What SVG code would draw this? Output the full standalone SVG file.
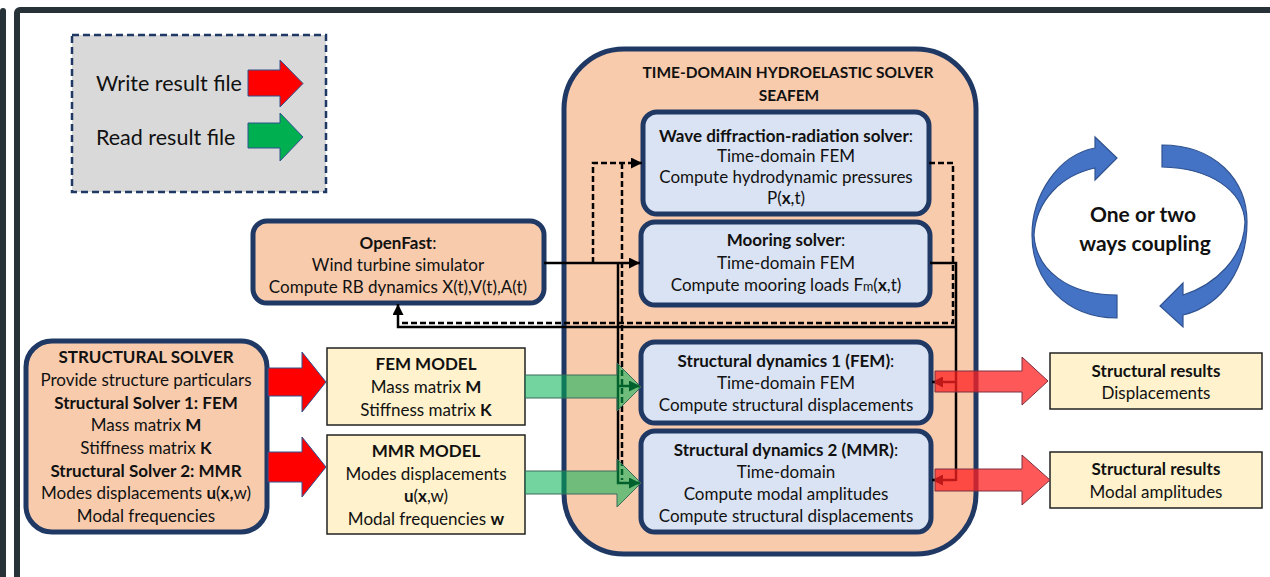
<svg xmlns="http://www.w3.org/2000/svg" width="1270" height="577" viewBox="0 0 1270 577">
<defs>
<style>
.t{font-family:Lato,"Open Sans","Liberation Sans",sans-serif;font-size:17px;fill:#111;text-anchor:middle}
.b{font-weight:bold}
.rb{fill:#f8cbad;stroke:#1f3864;stroke-width:5}
.bb{fill:#dae3f3;stroke:#1f3864;stroke-width:5}
.yb{fill:#fff2cc;stroke:#222;stroke-width:1.5}
.ln{fill:none;stroke:#000;stroke-width:2.5}
.dl{fill:none;stroke:#000;stroke-width:2.5;stroke-dasharray:6,3}
.red{fill:#ff0000;stroke:#2f528f;stroke-width:1}
.grn{fill:#00b050;stroke:#2f528f;stroke-width:1}
.tred{fill:#ff2020;fill-opacity:0.75;stroke:#7a3040;stroke-width:1}
.tgrn{fill:#00b050;fill-opacity:0.55;stroke:#3a6a5a;stroke-width:1}
.cpl{fill:#4472c4;stroke:#2f528f;stroke-width:1.2}
</style>
<marker id="ah" viewBox="0 0 10 10" refX="10" refY="5" markerWidth="11" markerHeight="11" markerUnits="userSpaceOnUse" orient="auto">
<path d="M0,0 L10,5 L0,10 Z" fill="#000"/>
</marker>
</defs>
<rect width="1270" height="577" fill="#fff"/>
<!-- frame -->
<rect x="0" y="8" width="6" height="580" rx="3" fill="#263238"/>
<rect x="17" y="10" width="1270" height="600" rx="3" fill="none" stroke="#263238" stroke-width="6"/>

<!-- legend -->
<g id="legend">
<rect x="72" y="35" width="254" height="157" fill="#d9d9d9" stroke="#1f3864" stroke-width="2.5" stroke-dasharray="7,4"/>
<text class="t" x="96" y="91" style="font-size:21.5px;text-anchor:start">Write result file</text>
<text class="t" x="96" y="145" style="font-size:21.5px;text-anchor:start">Read result file</text>
<path class="red" d="M248,70 H280 V60 L303,83.5 L280,107 V96 H248 Z"/>
<path class="grn" d="M248,123 H280 V113 L303,137 L280,161 V148 H248 Z"/>
</g>

<!-- SEAFEM container -->
<g id="seafem">
<rect class="rb" x="564" y="49" width="412" height="505" rx="60" stroke-width="6"/>
<text class="t b" x="788" y="78" style="font-size:15.5px">TIME-DOMAIN HYDROELASTIC SOLVER</text>
<text class="t b" x="789" y="101" style="font-size:15.5px">SEAFEM</text>
</g>

<g id="wave">
<rect class="bb" x="643" y="112" width="286" height="102" rx="14"/>
<text class="t" x="786" y="142"><tspan class="b">Wave diffraction-radiation solver</tspan>:</text>
<text class="t" x="786" y="162">Time-domain FEM</text>
<text class="t" x="786" y="183">Compute hydrodynamic pressures</text>
<text class="t" x="786" y="204">P(<tspan class="b">x</tspan>,t)</text>
</g>

<g id="mooring">
<rect class="bb" x="641" y="222" width="289" height="83" rx="14"/>
<text class="t" x="786" y="246"><tspan class="b">Mooring solver</tspan>:</text>
<text class="t" x="786" y="269">Time-domain FEM</text>
<text class="t" x="786" y="291">Compute mooring loads F<tspan style="font-size:12.5px">m</tspan>(<tspan class="b">x</tspan>,t)</text>
</g>

<g id="sd1">
<rect class="bb" x="641" y="342" width="290" height="81" rx="14"/>
<text class="t" x="786" y="367"><tspan class="b">Structural dynamics 1 (FEM)</tspan>:</text>
<text class="t" x="786" y="389">Time-domain FEM</text>
<text class="t" x="786" y="411">Compute structural displacements</text>
</g>

<g id="sd2">
<rect class="bb" x="641" y="431" width="290" height="101" rx="14"/>
<text class="t" x="786" y="456"><tspan class="b">Structural dynamics 2 (MMR)</tspan>:</text>
<text class="t" x="786" y="478">Time-domain</text>
<text class="t" x="786" y="500">Compute modal amplitudes</text>
<text class="t" x="786" y="522">Compute structural displacements</text>
</g>

<g id="openfast">
<rect class="rb" x="253" y="221" width="291" height="82" rx="14"/>
<text class="t" x="398" y="249"><tspan class="b">OpenFast</tspan>:</text>
<text class="t" x="398" y="271">Wind turbine simulator</text>
<text class="t" x="398" y="293">Compute RB dynamics X(t),V(t),A(t)</text>
</g>

<g id="structural-solver">
<rect class="rb" x="26" y="341" width="241" height="191" rx="26"/>
<text class="t b" x="146" y="363">STRUCTURAL SOLVER</text>
<text class="t" x="146" y="386">Provide structure particulars</text>
<text class="t b" x="146" y="409">Structural Solver 1: FEM</text>
<text class="t" x="146" y="431">Mass matrix <tspan class="b">M</tspan></text>
<text class="t" x="146" y="454">Stiffness matrix <tspan class="b">K</tspan></text>
<text class="t b" x="146" y="477">Structural Solver 2: MMR</text>
<text class="t" x="146" y="499">Modes displacements <tspan class="b">u</tspan>(<tspan class="b">x,</tspan>w)</text>
<text class="t" x="146" y="522">Modal frequencies</text>
</g>

<g id="fem-model">
<rect class="yb" x="327" y="348" width="198" height="77"/>
<text class="t b" x="426" y="370">FEM MODEL</text>
<text class="t" x="426" y="393">Mass matrix <tspan class="b">M</tspan></text>
<text class="t" x="426" y="416">Stiffness matrix <tspan class="b">K</tspan></text>
</g>

<g id="mmr-model">
<rect class="yb" x="327" y="435" width="198" height="99"/>
<text class="t b" x="426" y="457">MMR MODEL</text>
<text class="t" x="426" y="480">Modes displacements</text>
<text class="t" x="426" y="502"><tspan class="b">u</tspan>(<tspan class="b">x</tspan>,w)</text>
<text class="t" x="426" y="525">Modal frequencies <tspan class="b">w</tspan></text>
</g>

<g id="results1">
<rect class="yb" x="1050" y="353" width="212" height="56"/>
<text class="t b" x="1156" y="377">Structural results</text>
<text class="t" x="1156" y="399">Displacements</text>
</g>

<g id="results2">
<rect class="yb" x="1050" y="452" width="212" height="56"/>
<text class="t b" x="1156" y="475">Structural results</text>
<text class="t" x="1156" y="498">Modal amplitudes</text>
</g>

<g id="coupling">
<path class="cpl" d="M1117,318 C1065,318 1032,280 1032,235 C1032,195 1058,155 1095,148 L1095,137 L1117,158 L1095,180 L1095,168 C1062,175 1036,200 1034,235 C1036,270 1068,295 1117,295 Z"/>
<path class="cpl" d="M1162,145 C1215,145 1247,180 1247,222 C1247,265 1225,305 1183,315 L1183,327 L1160,306 L1183,283 L1183,295 C1215,285 1244,258 1245,222 C1243,190 1210,168 1162,167 Z"/>
<text class="t b" x="1143" y="222" style="font-size:21px">One or two</text>
<text class="t b" x="1145" y="251" style="font-size:21px">ways coupling</text>
</g>

<g id="connectors">
<path class="ln" d="M544,263 H640" marker-end="url(#ah)"/>
<path class="dl" d="M593,263 V163 H642" marker-end="url(#ah)"/>
<path class="ln" d="M618,263 V483 H640" marker-end="url(#ah)"/>
<path class="ln" d="M618,386 H640" marker-end="url(#ah)"/>
<path class="dl" d="M622,163 V480"/>
<path class="dl" d="M929,163 H953 V323 H400"/>
<path class="ln" d="M930,263 H956 V481"/>
<path class="ln" d="M956,327 H398 V304" marker-end="url(#ah)"/>
<path class="ln" d="M956,382 H932" marker-end="url(#ah)"/>
<path class="ln" d="M956,480 H932" marker-end="url(#ah)"/>
</g>

<g id="file-arrows">
<path class="red" d="M268,368 H302 V352 L326,382 L302,412 V396 H268 Z"/>
<path class="red" d="M268,452 H302 V437 L326,467 L302,497 V482 H268 Z"/>
<path class="tgrn" d="M525,375 H617 V363 L641,387 L617,411 V398 H525 Z"/>
<path class="tgrn" d="M525,471 H617 V459 L641,483 L617,507 V494 H525 Z"/>
<path class="tred" d="M935,371 H1022 V357 L1048,381 L1022,405 V392 H935 Z"/>
<path class="tred" d="M935,469 H1022 V455 L1050,480 L1022,505 V491 H935 Z"/>
</g>
</svg>
